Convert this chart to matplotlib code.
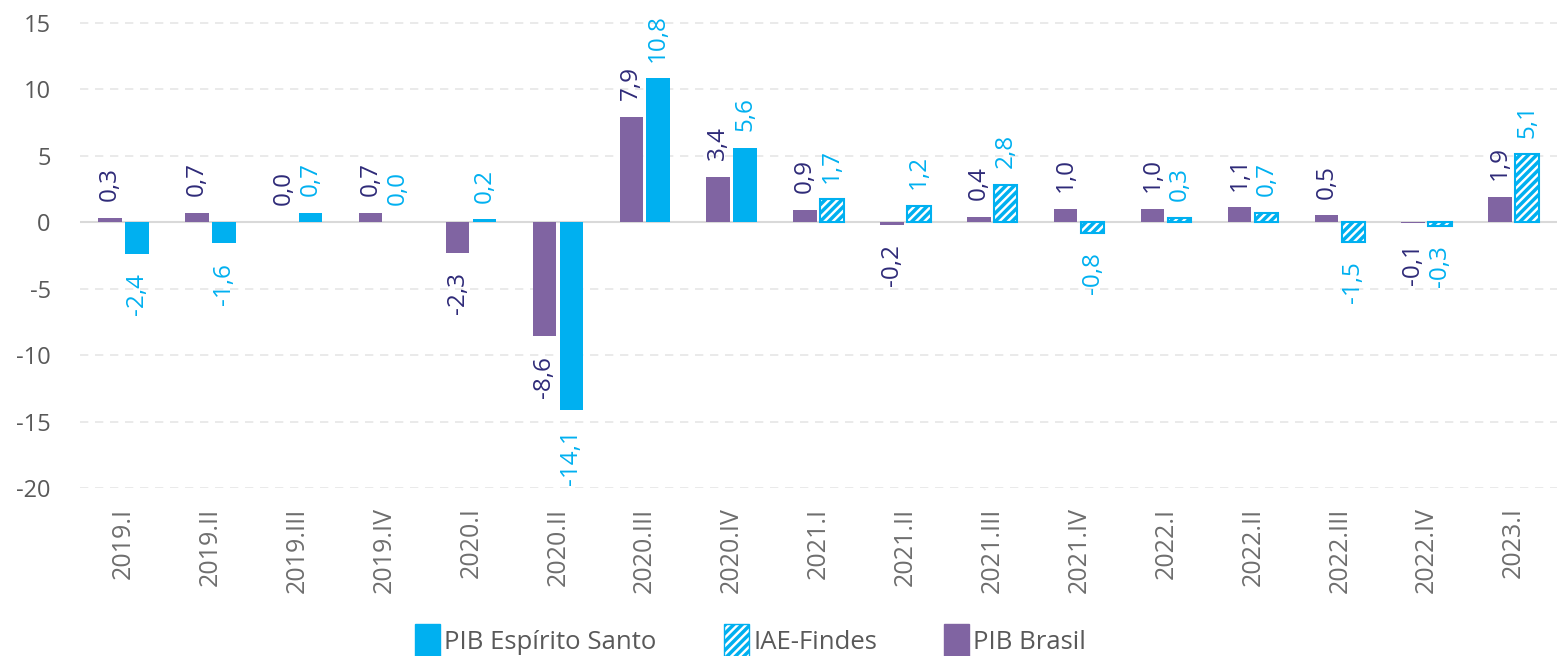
import numpy as np
import matplotlib.pyplot as plt
from matplotlib.patches import Patch

plt.rcParams['font.family'] = ['Open Sans', 'DejaVu Sans']
plt.rcParams['hatch.linewidth'] = 2.5

quarters = ['2019.I', '2019.II', '2019.III', '2019.IV', '2020.I', '2020.II', '2020.III', '2020.IV',
            '2021.I', '2021.II', '2021.III', '2021.IV', '2022.I', '2022.II', '2022.III', '2022.IV', '2023.I']
pib_brasil = [0.3, 0.7, 0.0, 0.7, -2.3, -8.6, 7.9, 3.4, 0.9, -0.2, 0.4, 1.0, 1.0, 1.1, 0.5, -0.1, 1.9]
pib_es = [-2.4, -1.6, 0.7, 0.0, 0.2, -14.1, 10.8, 5.6, 1.7, 1.2, 2.8, -0.8, 0.3, 0.7, -1.5, -0.3, 5.1]
n_pib_es = 8   # from 2021.I on the state series is the IAE-Findes estimate

purple = '#8064a2'
navy = '#2e2a78'
cyan = '#00b0f0'
grey = '#595959'

fig = plt.figure(figsize=(15.57, 6.56), dpi=100)
ax = fig.add_axes([80 / 1557, (656 - 488) / 656, 1 - 80 / 1557, (488 - 12) / 656])

x = np.arange(len(quarters))
w = 0.27
off = 0.155

ax.bar(x - off, pib_brasil, w, color=purple, zorder=3)
for i, v in enumerate(pib_es):
    if i < n_pib_es:
        ax.bar(x[i] + off, v, w, color=cyan, zorder=3)
    else:
        ax.bar(x[i] + off, v, w, facecolor='white', edgecolor=cyan, hatch='////',
               linewidth=1.5, zorder=3)


def fmt(v):
    return ('%.1f' % v).replace('.', ',')


def label(xp, v, color):
    if v >= 0:
        ax.annotate(fmt(v), (xp, v), xytext=(0, 12), textcoords='offset points',
                    rotation=90, ha='center', va='bottom', color=color, fontsize=17.5)
    else:
        ax.annotate(fmt(v), (xp, v), xytext=(0, -14), textcoords='offset points',
                    rotation=90, ha='center', va='top', color=color, fontsize=17.5)


for i in range(len(quarters)):
    label(x[i] - off, pib_brasil[i], navy)
    label(x[i] + off, pib_es[i], cyan)

ax.set_xlim(-0.5, len(quarters) - 0.5)
ax.set_ylim(-20, 15.8)
ax.set_yticks(np.arange(-20, 16, 5))
ax.set_yticklabels([str(t) for t in range(-20, 16, 5)])
for t in range(-20, 16, 5):
    if t != 0:
        ax.axhline(t, color='#e6e6e6', lw=1.2, ls=(0, (5, 4)), zorder=0)
ax.axhline(0, color='#d9d9d9', lw=1.5, zorder=2)

ax.set_xticks(x)
ax.set_xticklabels(quarters, rotation=90)
ax.tick_params(axis='x', length=0, labelsize=18, labelcolor='#6e6e6e', pad=14)
ax.tick_params(axis='y', length=0, labelsize=17, labelcolor=grey, pad=21)
for s in ax.spines.values():
    s.set_visible(False)

handles = [Patch(facecolor=cyan, edgecolor=cyan),
           Patch(facecolor='white', edgecolor=cyan, hatch='////'),
           Patch(facecolor=purple, edgecolor=purple)]
fig.legend(handles, ['PIB Espírito Santo', 'IAE-Findes', 'PIB Brasil'],
           loc='lower center', bbox_to_anchor=(0.482, -0.037), ncol=3, frameon=False,
           fontsize=18.5, labelcolor=grey, handlelength=1.0, handleheight=1.6,
           handletextpad=0.15, columnspacing=2.6)

plt.savefig('out.png', dpi=100)
